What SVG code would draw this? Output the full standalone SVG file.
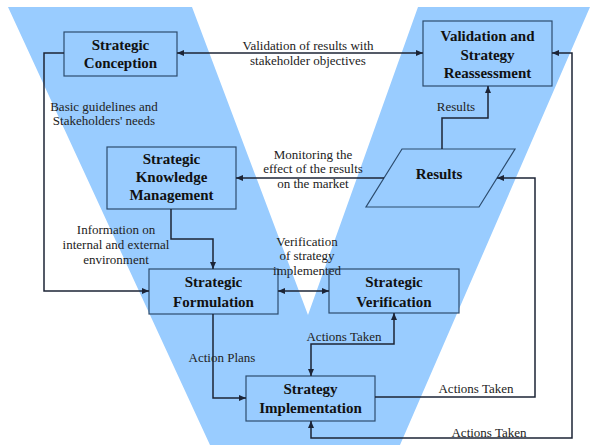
<svg xmlns="http://www.w3.org/2000/svg" width="598" height="445" viewBox="0 0 598 445">
<style>
.box{fill:#99ccff;stroke:#2d4c6e;stroke-width:1.2}
.t{font-weight:bold;font-size:15px;fill:#111;text-anchor:middle}
.l{font-size:13px;fill:#222;text-anchor:middle}
.c{fill:none;stroke:#1c2436;stroke-width:1.5}
</style>
<defs>
<marker id="ah" markerUnits="userSpaceOnUse" markerWidth="7" markerHeight="6" refX="7" refY="3" orient="auto-start-reverse">
<path d="M0,0 L7,3 L0,6 z" fill="#1c2436"/>
</marker>
</defs>
<rect width="598" height="445" fill="#ffffff"/>
<polygon id="v-shape" points="8,7 192,7 308,315 418,7 590,7 400,445 210,445" fill="#99ccff"/>

<g font-family="'Liberation Serif', Tinos, 'Times New Roman', 'DejaVu Serif', serif">
<g id="strategic-conception">
<rect class="box" x="64" y="32" width="113" height="44"/>
<text class="t" x="120.5" y="50">Strategic</text>
<text class="t" x="120.5" y="68">Conception</text>
</g>
<g id="validation-reassessment">
<rect class="box" x="423" y="21" width="129" height="65"/>
<text class="t" x="487.5" y="41">Validation and</text>
<text class="t" x="487.5" y="60">Strategy</text>
<text class="t" x="487.5" y="78">Reassessment</text>
</g>
<g id="knowledge-management">
<rect class="box" x="107" y="147" width="129" height="62"/>
<text class="t" x="171.5" y="164">Strategic</text>
<text class="t" x="171.5" y="182">Knowledge</text>
<text class="t" x="171.5" y="200">Management</text>
</g>
<g id="results">
<polygon class="box" points="402,149 515,149 479,207 366,207"/>
<text class="t" x="439" y="179">Results</text>
</g>
<g id="strategic-formulation">
<rect class="box" x="149" y="269" width="129" height="45"/>
<text class="t" x="213.5" y="287">Strategic</text>
<text class="t" x="213.5" y="307">Formulation</text>
</g>
<g id="strategic-verification">
<rect class="box" x="329" y="269" width="130" height="44"/>
<text class="t" x="394" y="287">Strategic</text>
<text class="t" x="394" y="307">Verification</text>
</g>
<g id="strategy-implementation">
<rect class="box" x="246" y="376" width="129" height="45"/>
<text class="t" x="310.5" y="394">Strategy</text>
<text class="t" x="310.5" y="413">Implementation</text>
</g>

<g id="connectors">
<text class="l" x="308" y="50">Validation of results with</text>
<text class="l" x="308" y="65">stakeholder objectives</text>
<text class="l" x="104" y="111">Basic guidelines and</text>
<text class="l" x="104" y="125">Stakeholders' needs</text>
<text class="l" x="456" y="111">Results</text>
<text class="l" x="313" y="159">Monitoring the</text>
<text class="l" x="313" y="173">effect of the results</text>
<text class="l" x="313" y="188">on the market</text>
<text class="l" x="116" y="234">Information on</text>
<text class="l" x="116" y="249">internal and external</text>
<text class="l" x="116" y="264">environment</text>
<text class="l" x="307" y="246">Verification</text>
<text class="l" x="307" y="260">of strategy</text>
<text class="l" x="307" y="275">implemented</text>
<text class="l" x="222" y="362">Action Plans</text>
<text class="l" x="344" y="341">Actions Taken</text>
<text class="l" x="476" y="393">Actions Taken</text>
<text class="l" x="489" y="437">Actions Taken</text>
<path class="c" d="M177,53 H423" marker-start="url(#ah)" marker-end="url(#ah)"/>
<path class="c" d="M64,53 H44 V291 H149" marker-end="url(#ah)"/>
<path class="c" d="M442,149 V118 H488 V86" marker-end="url(#ah)"/>
<path class="c" d="M384,178 H236" marker-end="url(#ah)"/>
<path class="c" d="M171,209 V239 H213 V269" marker-end="url(#ah)"/>
<path class="c" d="M278,291 H329" marker-start="url(#ah)" marker-end="url(#ah)"/>
<path class="c" d="M213,314 V398 H246" marker-end="url(#ah)"/>
<path class="c" d="M394,313 V344 H311 V376" marker-start="url(#ah)" marker-end="url(#ah)"/>
<path class="c" d="M375,397 H535 V178 H497" marker-end="url(#ah)"/>
<path class="c" d="M552,53 H572 V438 H311 V421" marker-start="url(#ah)" marker-end="url(#ah)"/>
</g>
</g>
</svg>
